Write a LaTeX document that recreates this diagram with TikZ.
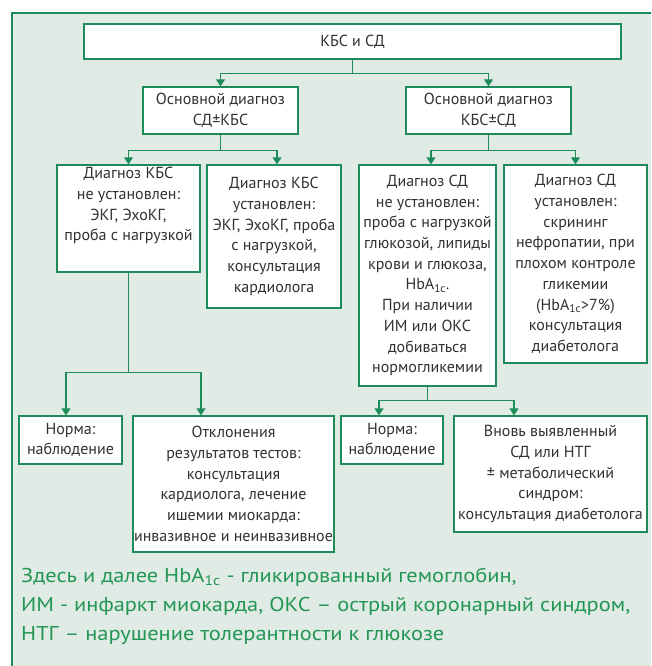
\documentclass[tikz,border=0pt]{standalone}
\usepackage{fontspec}
\setmainfont{PT Sans}
\newfontfamily\notefont{PT Sans}[FakeStretch=1.12]
\usetikzlibrary{arrows.meta}
\definecolor{frgreen}{RGB}{30,140,90}
\definecolor{bggreen}{RGB}{223,235,228}
\definecolor{txtgray}{RGB}{50,50,50}
\definecolor{notegreen}{RGB}{35,150,85}

\begin{document}
\begin{tikzpicture}[x=1pt,y=-1pt,
    box/.style={draw=frgreen,line width=1.4pt,fill=white,text=txtgray,align=center,
      inner sep=0pt,font=\fontsize{16}{20.7}\selectfont},
    link/.style={draw=frgreen,line width=1.4pt},
    arr/.style={link,-{Triangle[width=9pt,length=7pt]}},
    note/.style={anchor=base west,inner sep=0pt,text=notegreen,font=\notefont\fontsize{20}{29}\selectfont}]
    \useasboundingbox (0,0) rectangle (651,666);
    \clip (0,0) rectangle (651,666);
    \draw[draw=frgreen,fill=bggreen,line width=1.4pt] (12,13) rectangle (700,720);

    \node[box,minimum width=537pt,minimum height=35pt] (kbs) at (352.5,41.5) {КБС и СД};
    \node[box,minimum width=155pt,minimum height=47pt] (mainL) at (220.5,110.5) {Основной диагноз\\СД±КБС};
    \node[box,minimum width=165pt,minimum height=47pt] (mainR) at (488.5,110.5) {Основной диагноз\\КБС±СД};

    \node[box,minimum width=143pt,minimum height=107pt] (noKBS) at (128.5,218.5)
      {Диагноз КБС\\не установлен:\\ЭКГ, ЭхоКГ,\\проба с нагрузкой\\[8pt]};
    \node[box,minimum width=134pt,minimum height=143pt] (yesKBS) at (274,236.5)
      {Диагноз КБС\\установлен:\\ЭКГ, ЭхоКГ, проба\\с нагрузкой,\\консультация\\кардиолога};
    \node[box,minimum width=137pt,minimum height=221pt] (noSD) at (427.5,275.5)
      {Диагноз СД\\не установлен:\\проба с нагрузкой\\глюкозой, липиды\\крови и глюкоза,\\HbA\textsubscript{1c}.\\При наличии\\ИМ или ОКС\\добиваться\\нормогликемии};
    \node[box,minimum width=143pt,minimum height=198pt] (yesSD) at (575.5,264)
      {Диагноз СД\\установлен:\\скрининг\\нефропатии, при\\плохом контроле\\гликемии\\(HbA\textsubscript{1c}>7\%)\\консультация\\диабетолога};

    \node[box,minimum width=103pt,minimum height=48pt] (normL) at (70.5,440) {Норма:\\наблюдение};
    \node[box,minimum width=201pt,minimum height=136pt] (devL) at (233.5,484)
      {Отклонения\\результатов тестов:\\консультация\\кардиолога, лечение\\ишемии миокарда:\\инвазивное и неинвазивное};
    \node[box,minimum width=102pt,minimum height=48pt] (normR) at (392,440) {Норма:\\наблюдение};
    \node[box,minimum width=193pt,minimum height=116pt] (newSD) at (550.5,474)
      {Вновь выявленный\\СД или НТГ\\± метаболический\\синдром:\\консультация диабетолога};

    \draw[link] (kbs.south) -- ++(0,14) coordinate (j1);
    \draw[arr] (j1) -| (mainL.north);
    \draw[arr] (j1) -| (mainR.north);

    \draw[link] (mainL.south) -- ++(0,16) coordinate (j2);
    \draw[arr] (j2) -| (noKBS.north);
    \draw[arr] (j2) -| ([xshift=3pt]yesKBS.north);
    \draw[link] (mainR.south) -- ++(0,16) coordinate (j3);
    \draw[arr] (j3) -| ([xshift=3.5pt]noSD.north);
    \draw[arr] (j3) -| (yesSD.north);

    \draw[link] (noKBS.south) -- ++(0,100) coordinate (j4);
    \draw[arr] (j4) -| ([xshift=-4.5pt]normL.north);
    \draw[arr] (j4) -| ([xshift=-32.5pt]devL.north);
    \draw[link] (noSD.south) -- ++(0,14) coordinate (j5);
    \draw[arr] (j5) -| ([xshift=-13pt]normR.north);
    \draw[arr] (j5) -| ([xshift=-36.5pt]newSD.north);

    \node[note] (note1) at (21,582) {Здесь и далее HbA\textsubscript{1c} - гликированный гемоглобин,};
    \node[note] (note2) at (21,611) {ИМ - инфаркт миокарда, ОКС – острый коронарный синдром,};
    \node[note] (note3) at (21,640) {НТГ – нарушение толерантности к глюкозе};
  \end{tikzpicture}
\end{document}
